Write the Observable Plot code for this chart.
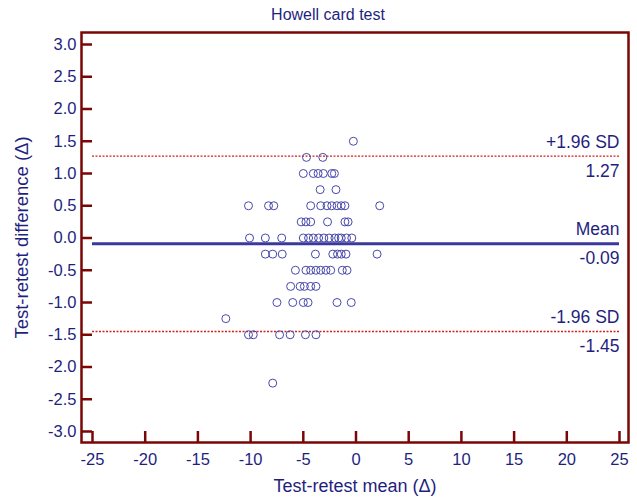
<!DOCTYPE html>
<html>
<head>
<meta charset="utf-8">
<script src="https://cdn.jsdelivr.net/npm/d3@7"></script>
<script src="https://cdn.jsdelivr.net/npm/@observablehq/plot@0.6"></script>
<style>
  html, body { margin: 0; padding: 0; background: #ffffff; }
</style>
</head>
<body>
<div id="chart"></div>
<script>
// ---- Data ----
const titleText = "Howell card test";
const xLabelText = "Test-retest mean (\u0394)";
const yLabelText = "Test-retest difference (\u0394)";

const xTicks = [-25, -20, -15, -10, -5, 0, 5, 10, 15, 20, 25];
const yTicks = [-3, -2.5, -2, -1.5, -1, -0.5, 0, 0.5, 1, 1.5, 2, 2.5, 3];

// Test-retest mean (x) and difference (y) for each subject
const meanValues = [
  -0.25,
  -4.7, -3.15,
  -5.0, -4.05, -3.6, -3.1, -2.3, -2.05,
  -3.4, -1.9,
  -10.2, -8.3, -7.8, -4.3, -3.35, -2.75, -2.3, -1.8, -1.4, -1.05, 2.25,
  -5.2, -4.75, -4.3, -2.7, -1.05, -0.75,
  -10.1, -8.6, -7.05, -5.0, -4.5, -4.05, -3.55, -3.05, -2.55, -2.0, -1.65, -1.4, -0.9, -0.4,
  -8.6, -7.9, -7.0, -3.85, -2.2, -1.75, -1.4, -0.95, 2.0,
  -5.75, -4.75, -4.3, -3.8, -3.35, -2.85, -2.4, -1.3, -0.85,
  -6.2, -5.3, -4.9, -4.3, -3.8,
  -7.5, -6.0, -5.0, -4.55, -1.8, -0.45,
  -12.35,
  -10.2, -9.75, -7.25, -6.25, -4.8, -3.8,
  -7.9
];
const diffValues = [
  1.5,
  1.25, 1.25,
  1, 1, 1, 1, 1, 1,
  0.75, 0.75,
  0.5, 0.5, 0.5, 0.5, 0.5, 0.5, 0.5, 0.5, 0.5, 0.5, 0.5,
  0.25, 0.25, 0.25, 0.25, 0.25, 0.25,
  0, 0, 0, 0, 0, 0, 0, 0, 0, 0, 0, 0, 0, 0,
  -0.25, -0.25, -0.25, -0.25, -0.25, -0.25, -0.25, -0.25, -0.25,
  -0.5, -0.5, -0.5, -0.5, -0.5, -0.5, -0.5, -0.5, -0.5,
  -0.75, -0.75, -0.75, -0.75, -0.75,
  -1, -1, -1, -1, -1, -1,
  -1.25,
  -1.5, -1.5, -1.5, -1.5, -1.5, -1.5,
  -2.25
];

// Reference lines
const refNames = ["+1.96 SD", "Mean", "-1.96 SD"];
const refValues = [1.27, -0.09, -1.45];
const refValueLabels = ["1.27", "-0.09", "-1.45"];

// ---- Build ----
const points = meanValues.map((m, i) => ({mean: m, diff: diffValues[i]}));
const refs = refNames.map((n, i) => ({name: n, value: refValues[i], label: refValueLabels[i]}));
const sdRefs = refs.filter(r => r.name !== "Mean");
const meanRef = refs.filter(r => r.name === "Mean");

const W = 637, H = 499;
const mL = 81, mR = 9, mT = 32, mB = 57;
const frameW = W - mL - mR, frameH = H - mT - mB;

const textColor = "#1f1f80";
const frameColor = "#7a0606";
const xMin = xTicks[0], xMax = xTicks[xTicks.length - 1];

const chart = Plot.plot({
  width: W,
  height: H,
  marginLeft: mL,
  marginRight: mR,
  marginTop: mT,
  marginBottom: mB,
  x: {domain: [xMin, xMax], insetLeft: 11, insetRight: 9, axis: null},
  y: {domain: [yTicks[0], yTicks[yTicks.length - 1]], insetTop: 12, insetBottom: 11, axis: null},
  style: {
    fontFamily: "'Liberation Sans', Arial, sans-serif",
    fontSize: "16px",
    background: "#ffffff",
    color: textColor
  },
  marks: [
    // SD limit lines
    Plot.ruleY(sdRefs, {y: "value", x1: xMin, x2: xMax, stroke: "#d42020", strokeWidth: 1.4, strokeDasharray: "2,1.5"}),
    // Mean line
    Plot.ruleY(meanRef, {y: "value", x1: xMin, x2: xMax, stroke: "#3a3a9c", strokeWidth: 3}),
    // Points
    Plot.dot(points, {x: "mean", y: "diff", r: 4, stroke: "#4848aa", strokeWidth: 1, fill: "none"}),
    // Inward ticks
    Plot.ruleX(xTicks, {x: d => d, insetTop: frameH - 11, stroke: frameColor, strokeWidth: 2.5}),
    Plot.ruleY(yTicks, {y: d => d, insetRight: frameW - 11, stroke: frameColor, strokeWidth: 2.5}),
    // Frame
    Plot.frame({stroke: frameColor, strokeWidth: 2.5}),
    // Tick labels
    Plot.text(xTicks, {x: d => d, frameAnchor: "bottom", dy: 17, text: d => String(d), fill: textColor, fontSize: 16.5, lineAnchor: "middle"}),
    Plot.text(yTicks, {y: d => d, frameAnchor: "left", dx: -5, textAnchor: "end", text: d => d.toFixed(1), fill: textColor, fontSize: 16.5, lineAnchor: "middle"}),
    // Reference line labels
    Plot.text(refs, {x: xMax, y: "value", text: "name", textAnchor: "end", dy: -14, fill: textColor, fontSize: 17.5, lineAnchor: "middle"}),
    Plot.text(refs, {x: xMax, y: "value", text: "label", textAnchor: "end", dy: 15, fill: textColor, fontSize: 17.5, lineAnchor: "middle"}),
    // Title and axis labels
    Plot.text([titleText], {frameAnchor: "top", dx: -27, dy: -17.5, text: d => d, fill: textColor, fontSize: 16, lineAnchor: "middle", textAnchor: "middle"}),
    Plot.text([xLabelText], {frameAnchor: "bottom", dy: 44, text: d => d, fill: textColor, fontSize: 18, lineAnchor: "middle", textAnchor: "middle"}),
    Plot.text([yLabelText], {frameAnchor: "left", dx: -59, dy: 0, rotate: -90, text: d => d, fill: textColor, fontSize: 18.5, lineAnchor: "middle", textAnchor: "middle"})
  ]
});

document.getElementById("chart").appendChild(chart);
</script>
</body>
</html>
